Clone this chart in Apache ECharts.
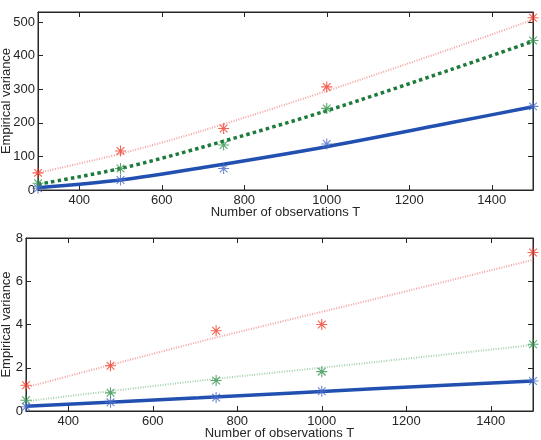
<!DOCTYPE html>
<html>
<head>
<meta charset="utf-8">
<script src="https://cdn.jsdelivr.net/npm/echarts@6/dist/echarts.min.js"></script>
<style>
  html, body { margin: 0; padding: 0; background: #fff; }
  #chart { width: 541px; height: 440px; }
</style>
</head>
<body>
<div id="chart"></div>
<script>
// observation counts where the empirical variances were measured
const obsT = [300, 500, 750, 1000, 1500]
const xTicks = [400, 600, 800, 1000, 1200, 1400]
const yTicksTop = [0, 100, 200, 300, 400, 500]
const yTicksBottom = [0, 2, 4, 6, 8]

// top panel: measured values (stars)
const topRed = [51, 116, 183, 307, 513]
const topGreen = [20, 64, 134, 243, 445]
const topBlue = [5, 30, 64, 137, 249]
// top panel: fitted curves, read along T
const topFitT = [300, 500, 700, 1000, 1300, 1500]
const topRedFit = [51, 108, 177, 295, 420, 507]
const topGreenFit = [17, 64, 128, 236, 358, 443]
const topBlueFit = [7, 30, 67, 129, 200, 248]

// bottom panel: measured values (stars)
const botRed = [1.19, 2.09, 3.71, 4.0, 7.33]
const botGreen = [0.5, 0.84, 1.41, 1.82, 3.09]
const botBlue = [0.2, 0.4, 0.62, 0.91, 1.39]
// bottom panel: fitted lines
const botFitT = [300, 710, 1134, 1500]
const botRedFit = [1.09, 3.2, 5.22, 6.99]
const botGreenFit = [0.45, 1.4, 2.28, 3.05]
const botBlueFit = [0.22, 0.61, 1.04, 1.39]

const pair = (xs, ys) => xs.map((x, i) => [x, ys[i]])

const chart = echarts.init(document.getElementById('chart'))

const font = 'Liberation Sans, Arial, sans-serif'
const ink = '#262626'
const star = 'path://M5,0L5,10M0,5L10,5M1.5,1.5L8.5,8.5M8.5,1.5L1.5,8.5'

const xAx = (grid, pos, withLabels) => ({
  gridIndex: grid,
  type: 'value',
  position: pos,
  min: 300,
  max: 1500,
  axisLine: { show: true, onZero: false, lineStyle: { color: ink, width: 1 } },
  axisTick: { show: true, inside: true, length: 5, customValues: xTicks, lineStyle: { color: ink } },
  axisLabel: {
    show: withLabels, customValues: xTicks, margin: 4,
    formatter: (v) => String(v),
    color: ink, fontFamily: font, fontSize: 13
  },
  splitLine: { show: false },
  name: withLabels ? 'Number of observations T' : '',
  nameLocation: 'middle',
  nameGap: 16,
  nameMoveOverlap: false,
  nameTextStyle: { color: ink, fontFamily: font, fontSize: 13 }
})

const yAx = (grid, pos, max, ticks, withLabels, gap) => ({
  gridIndex: grid,
  type: 'value',
  position: pos,
  min: 0,
  max: max,
  axisLine: { show: true, onZero: false, lineStyle: { color: ink, width: 1 } },
  axisTick: { show: true, inside: true, length: 5, customValues: ticks, lineStyle: { color: ink } },
  axisLabel: {
    show: withLabels, customValues: ticks, margin: 3,
    formatter: (v) => String(v),
    color: ink, fontFamily: font, fontSize: 13
  },
  splitLine: { show: false },
  name: withLabels ? 'Empirical variance' : '',
  nameLocation: 'middle',
  nameRotate: 90,
  nameGap: gap,
  nameMoveOverlap: false,
  nameTextStyle: { color: ink, fontFamily: font, fontSize: 13 }
})

const fit = (xi, yi, data, color, width, type) => ({
  type: 'line',
  xAxisIndex: xi,
  yAxisIndex: yi,
  data: data,
  smooth: 0.3,
  showSymbol: false,
  silent: true,
  lineStyle: { color: color, width: width, type: type, cap: 'butt' },
  z: 2
})

const stars = (xi, yi, data, color) => ({
  type: 'scatter',
  xAxisIndex: xi,
  yAxisIndex: yi,
  data: data,
  symbol: star,
  symbolSize: 11,
  itemStyle: { color: color, borderColor: color, borderWidth: 1.1 },
  z: 5
})

chart.setOption({
  animation: false,
  backgroundColor: '#fff',
  grid: [
    { left: 38, right: 8, top: 12, height: 178, show: true, borderColor: ink, borderWidth: 1,
      containLabel: false, outerBoundsMode: 'none' },
    { left: 26, right: 8, top: 238, height: 173, show: true, borderColor: ink, borderWidth: 1,
      containLabel: false, outerBoundsMode: 'none' }
  ],
  xAxis: [
    xAx(0, 'bottom', true),
    xAx(0, 'top', false),
    xAx(1, 'bottom', true),
    xAx(1, 'top', false)
  ],
  yAxis: [
    yAx(0, 'left', 530, yTicksTop, true, 25),
    yAx(0, 'right', 530, yTicksTop, false, 0),
    yAx(1, 'left', 8, yTicksBottom, true, 13),
    yAx(1, 'right', 8, yTicksBottom, false, 0)
  ],
  series: [
    fit(0, 0, pair(topFitT, topRedFit), '#f4a2a2', 2, [1, 1.5]),
    fit(0, 0, pair(topFitT, topGreenFit), '#1d7a3b', 3.5, [3.5, 3.2]),
    fit(0, 0, pair(topFitT, topBlueFit), '#2150b0', 3.5, 'solid'),
    stars(0, 0, pair(obsT, topRed), '#f03c2c'),
    stars(0, 0, pair(obsT, topGreen), '#35924d'),
    stars(0, 0, pair(obsT, topBlue), '#4a6cc8'),

    fit(2, 2, pair(botFitT, botRedFit), '#f4a2a2', 2, [1, 1.5]),
    fit(2, 2, pair(botFitT, botGreenFit), '#a4cfac', 2, [1, 1.5]),
    fit(2, 2, pair(botFitT, botBlueFit), '#2150b0', 3.5, 'solid'),
    stars(2, 2, pair(obsT, botRed), '#f03c2c'),
    stars(2, 2, pair(obsT, botGreen), '#35924d'),
    stars(2, 2, pair(obsT, botBlue), '#4a6cc8')
  ]
})
</script>
</body>
</html>
